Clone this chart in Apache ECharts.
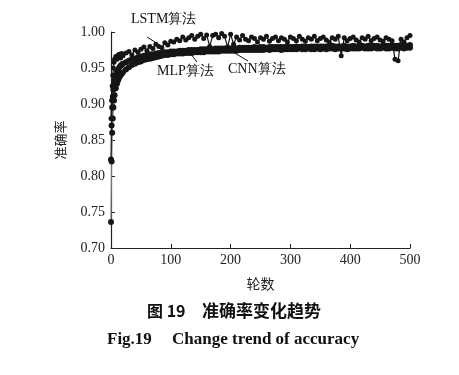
<!DOCTYPE html>
<html>
<head>
<meta charset="utf-8">
<script src="https://cdn.jsdelivr.net/npm/echarts@6/dist/echarts.min.js"></script>
<style>
  html, body { margin: 0; padding: 0; background: #fff; }
  #chart { width: 459px; height: 375px; }
</style>
</head>
<body>
<div id="chart"></div>
<script>
'use strict';

// 轮数 (epochs)
var epochs = [0, 1, 2, 3, 4, 5, 6, 8, 10, 12, 14, 16, 18, 20,
  25, 30, 35, 40, 45, 50, 55, 60, 65, 70, 75, 80, 85, 90, 95, 100,
  105, 110, 115, 120, 125, 130, 135, 140, 145, 150, 155, 160, 165, 170, 175, 180, 185, 190, 195, 200,
  205, 210, 215, 220, 225, 230, 235, 240, 245, 250, 255, 260, 265, 270, 275, 280, 285, 290, 295, 300,
  305, 310, 315, 320, 325, 330, 335, 340, 345, 350, 355, 360, 365, 370, 375, 380, 385, 390, 395, 400,
  405, 410, 415, 420, 425, 430, 435, 440, 445, 450, 455, 460, 465, 470, 475, 480, 485, 490, 495, 500];

var lstmAcc = [0.880, 0.905, 0.925, 0.940, 0.950, 0.958, 0.962, 0.966, 0.962, 0.968, 0.969, 0.964, 0.970, 0.967,
  0.971, 0.973, 0.968, 0.975, 0.972, 0.976, 0.979, 0.974, 0.980, 0.977, 0.983, 0.980, 0.978, 0.985, 0.982, 0.987,
  0.986, 0.990, 0.988, 0.993, 0.989, 0.992, 0.995, 0.990, 0.994, 0.997, 0.991, 0.996, 0.980, 0.995, 0.997, 0.992, 0.998, 0.994, 0.979, 0.997,
  0.983, 0.993, 0.989, 0.995, 0.990, 0.988, 0.993, 0.991, 0.986, 0.992, 0.990, 0.994, 0.987, 0.991, 0.993, 0.988, 0.992, 0.990, 0.986, 0.993,
  0.991, 0.988, 0.994, 0.990, 0.987, 0.992, 0.990, 0.994, 0.988, 0.991, 0.993, 0.989, 0.986, 0.992, 0.990, 0.994, 0.967, 0.992, 0.988, 0.991,
  0.993, 0.989, 0.986, 0.992, 0.990, 0.994, 0.988, 0.991, 0.993, 0.989, 0.987, 0.992, 0.990, 0.988, 0.962, 0.960, 0.990, 0.986, 0.992, 0.995];

var mlpAcc = [0.736, 0.820, 0.860, 0.880, 0.895, 0.905, 0.912, 0.922, 0.928, 0.933, 0.937, 0.940, 0.942, 0.944,
  0.948, 0.951, 0.954, 0.956, 0.958, 0.959, 0.961, 0.962, 0.963, 0.964, 0.965, 0.966, 0.967, 0.968, 0.968, 0.969,
  0.969, 0.970, 0.970, 0.970, 0.971, 0.971, 0.971, 0.972, 0.972, 0.972, 0.972, 0.973, 0.973, 0.973, 0.973, 0.973, 0.974, 0.974, 0.974, 0.974,
  0.974, 0.974, 0.975, 0.975, 0.975, 0.975, 0.975, 0.975, 0.975, 0.975, 0.975, 0.976, 0.975, 0.976, 0.976, 0.976, 0.975, 0.976, 0.976, 0.976,
  0.976, 0.976, 0.977, 0.976, 0.976, 0.977, 0.976, 0.976, 0.977, 0.976, 0.977, 0.976, 0.977, 0.977, 0.976, 0.977, 0.977, 0.977, 0.976, 0.977,
  0.977, 0.977, 0.977, 0.978, 0.977, 0.977, 0.977, 0.978, 0.977, 0.977, 0.978, 0.977, 0.977, 0.978, 0.977, 0.977, 0.978, 0.977, 0.978, 0.978];

var cnnAcc = [0.823, 0.870, 0.895, 0.910, 0.920, 0.928, 0.933, 0.940, 0.945, 0.948, 0.951, 0.953, 0.955, 0.956,
  0.958, 0.960, 0.962, 0.963, 0.965, 0.966, 0.967, 0.968, 0.969, 0.969, 0.970, 0.971, 0.971, 0.972, 0.972, 0.973,
  0.973, 0.973, 0.974, 0.974, 0.974, 0.975, 0.975, 0.975, 0.975, 0.976, 0.976, 0.976, 0.976, 0.976, 0.977, 0.977, 0.977, 0.977, 0.977, 0.977,
  0.978, 0.977, 0.978, 0.978, 0.978, 0.978, 0.978, 0.979, 0.978, 0.979, 0.979, 0.978, 0.979, 0.979, 0.979, 0.979, 0.979, 0.979, 0.980, 0.979,
  0.979, 0.980, 0.979, 0.980, 0.980, 0.979, 0.980, 0.980, 0.980, 0.980, 0.980, 0.980, 0.980, 0.981, 0.980, 0.980, 0.980, 0.981, 0.980, 0.980,
  0.981, 0.980, 0.981, 0.981, 0.980, 0.981, 0.981, 0.981, 0.981, 0.980, 0.981, 0.981, 0.981, 0.981, 0.981, 0.981, 0.982, 0.981, 0.981, 0.982];

var yTicks = [0.70, 0.75, 0.80, 0.85, 0.90, 0.95, 1.00];

function pairs(ys) {
  return epochs.map(function (x, i) { return [x, ys[i]]; });
}

var serif = '"Liberation Serif", "Times New Roman", serif';
var cjk = '"Noto Sans CJK SC", sans-serif';

function lineSeries(name, ys, size, lineColor) {
  return {
    name: name,
    type: 'line',
    data: pairs(ys),
    symbol: 'circle',
    symbolSize: size,
    showSymbol: true,
    animation: false,
    lineStyle: { color: lineColor, width: 1.2 },
    itemStyle: { color: '#151515' }
  };
}

var myChart = echarts.init(document.getElementById('chart'), null, { renderer: 'canvas' });

var option = {
  backgroundColor: '#fff',
  animation: false,
  grid: { left: 111, right: 49, top: 32, bottom: 127 },
  xAxis: {
    type: 'value',
    min: 0,
    max: 500,
    interval: 100,
    name: '轮数',
    nameLocation: 'middle',
    nameGap: 29,
    nameTextStyle: { fontFamily: cjk, fontSize: 14, color: '#222' },
    axisLine: { lineStyle: { color: '#222', width: 1.2 } },
    axisTick: { inside: true, length: 4, lineStyle: { color: '#222' } },
    axisLabel: { fontFamily: serif, fontSize: 14, color: '#222', margin: 5 },
    splitLine: { show: false }
  },
  yAxis: {
    type: 'value',
    min: yTicks[0],
    max: yTicks[yTicks.length - 1],
    interval: 0.05,
    name: '准确率',
    nameLocation: 'middle',
    nameRotate: 90,
    nameGap: 44,
    nameTextStyle: { fontFamily: cjk, fontSize: 13, color: '#222' },
    axisLine: { show: true, lineStyle: { color: '#222', width: 1.2 } },
    axisTick: { show: true, inside: true, length: 4, lineStyle: { color: '#222' } },
    axisLabel: {
      fontFamily: serif, fontSize: 14, color: '#222', margin: 6,
      formatter: function (v) { return v.toFixed(2); }
    },
    splitLine: { show: false }
  },
  series: [
    lineSeries('MLP算法', mlpAcc, 6, '#777'),
    lineSeries('CNN算法', cnnAcc, 6, '#222'),
    lineSeries('LSTM算法', lstmAcc, 5, '#151515')
  ],
  graphic: [
    { type: 'text', left: 131, top: 12, style: { text: 'LSTM算法', font: '14px ' + serif, fill: '#111' } },
    { type: 'line', shape: { x1: 147, y1: 37, x2: 158, y2: 44 }, style: { stroke: '#111', lineWidth: 1 } },
    { type: 'text', left: 157, top: 64, style: { text: 'MLP算法', font: '14px ' + serif, fill: '#111' } },
    { type: 'line', shape: { x1: 190, y1: 53, x2: 197, y2: 62 }, style: { stroke: '#111', lineWidth: 1 } },
    { type: 'text', left: 228, top: 62, style: { text: 'CNN算法', font: '14px ' + serif, fill: '#111' } },
    { type: 'line', shape: { x1: 233, y1: 52, x2: 248, y2: 61 }, style: { stroke: '#111', lineWidth: 1 } },
    { type: 'text', x: 147, y: 311, style: { text: '图 19', font: 'bold 16px ' + cjk, fill: '#111', verticalAlign: 'middle' } },
    { type: 'text', x: 202, y: 311, style: { text: '准确率变化趋势', font: 'bold 17px ' + cjk, fill: '#111', verticalAlign: 'middle' } },
    { type: 'text', x: 107, y: 340, style: { text: 'Fig.19', font: 'bold 17px ' + serif, fill: '#111', verticalAlign: 'middle' } },
    { type: 'text', x: 172, y: 340, style: { text: 'Change trend of accuracy', font: 'bold 17px ' + serif, fill: '#111', verticalAlign: 'middle' } }
  ]
};

myChart.setOption(option);
</script>
</body>
</html>
